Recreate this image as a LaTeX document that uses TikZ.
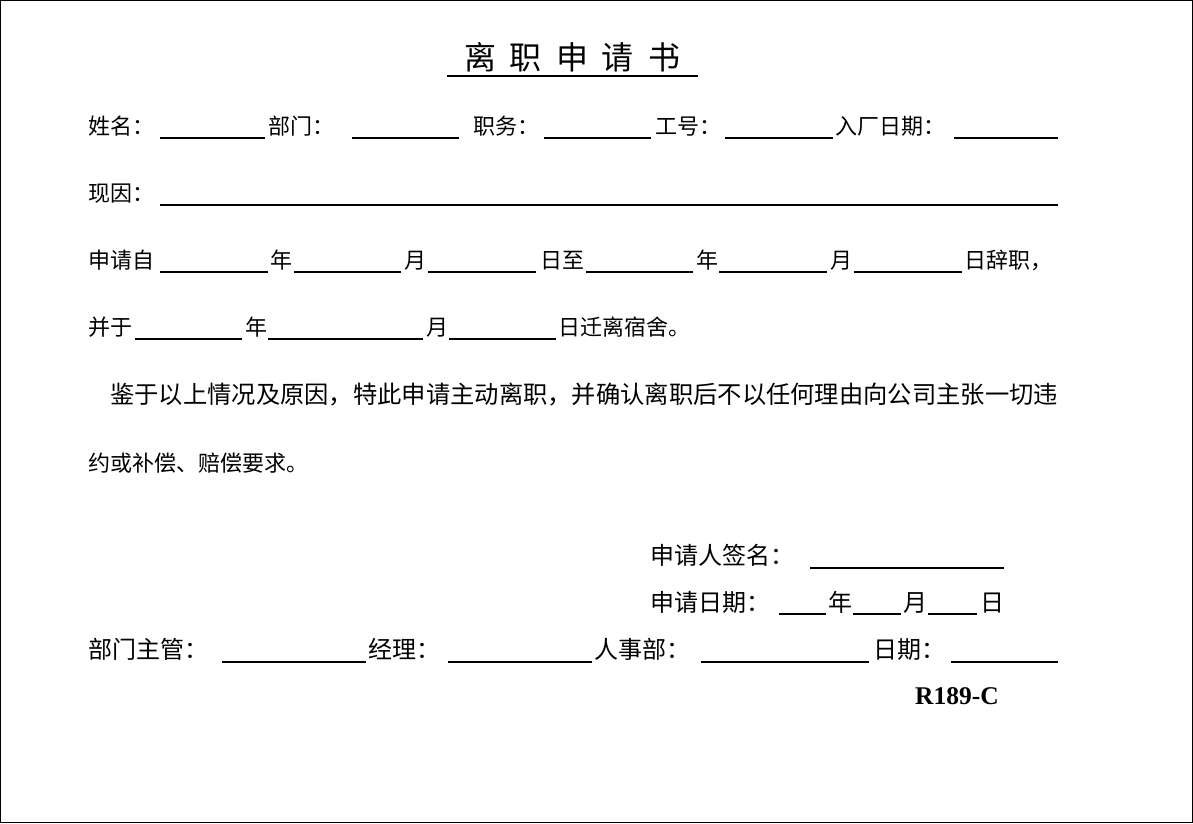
\documentclass[tikz,border=0pt]{standalone}
\usepackage{fontspec}
\setmainfont{Liberation Serif}
\newfontfamily\cjk{Noto Sans CJK SC}
\begin{document}
\begin{tikzpicture}[x=1pt,y=-1pt,
  t/.style={anchor=base west,inner sep=0pt,font=\cjk\fontsize{22}{22}\selectfont},
  tb/.style={anchor=base west,inner sep=0pt,font=\cjk\fontsize{24}{24}\selectfont},
  ln/.style={line width=1.3pt}]
\useasboundingbox (0,0) rectangle (1193,823);
\draw[line width=1pt] (0.5,0.5) rectangle (1192.5,822.5);
% title
\node[anchor=base,inner sep=0pt,font=\cjk\fontsize{32}{32}\selectfont] (title) at (572,69) {离\hspace{14pt}职\hspace{14pt}申\hspace{14pt}请\hspace{14pt}书};
\draw[line width=1.5pt] (447,76) -- (698,76);
% row 1
\node[t] at (88,134) {姓名：};
\draw[ln] (160,138) -- (265,138);
\node[t] at (268,134) {部门：};
\draw[ln] (352,138) -- (459,138);
\node[t] at (473,134) {职务：};
\draw[ln] (544,138) -- (651,138);
\node[t] at (655,134) {工号：};
\draw[ln] (725,138) -- (833,138);
\node[t] at (835,134) {入厂日期：};
\draw[ln] (954,138) -- (1058,138);
% row 2
\node[t] at (88,201) {现因：};
\draw[ln] (160,205) -- (1058,205);
% row 3
\node[t] at (88,268) {申请自};
\draw[ln] (160,272) -- (268,272);
\node[t] at (270,268) {年};
\draw[ln] (294,272) -- (401,272);
\node[t] at (404,268) {月};
\draw[ln] (428,272) -- (536,272);
\node[t] at (540,268) {日至};
\draw[ln] (586,272) -- (693,272);
\node[t] at (696,268) {年};
\draw[ln] (719,272) -- (827,272);
\node[t] at (830,268) {月};
\draw[ln] (854,272) -- (962,272);
\node[t] at (964,268) {日辞职，};
% row 4
\node[t] at (88,335) {并于};
\draw[ln] (135,339) -- (242,339);
\node[t] at (245,335) {年};
\draw[ln] (268,339) -- (423,339);
\node[t] at (426,335) {月};
\draw[ln] (449,339) -- (556,339);
\node[t] at (558,335) {日迁离宿舍。};
% row 5-6
\node[anchor=base west,inner sep=0pt,font=\cjk\fontsize{24.3}{24.3}\selectfont] at (110,403) {鉴于以上情况及原因，特此申请主动离职，并确认离职后不以任何理由向公司主张一切违};
\node[t] at (88,471) {约或补偿、赔偿要求。};
% signature
\node[tb] at (650,564) {申请人签名：};
\draw[ln] (810,568) -- (1004,568);
\node[tb] at (650,611) {申请日期：};
\draw[ln] (779,614) -- (826,614);
\node[tb] at (828,611) {年};
\draw[ln] (853,614) -- (901,614);
\node[tb] at (903,611) {月};
\draw[ln] (928,614) -- (977,614);
\node[tb] at (980,611) {日};
% bottom row
\node[tb] at (88,658) {部门主管：};
\draw[ln] (222,662) -- (366,662);
\node[tb] at (368,658) {经理：};
\draw[ln] (448,662) -- (592,662);
\node[tb] at (594,658) {人事部：};
\draw[ln] (701,662) -- (869,662);
\node[tb] at (873,658) {日期：};
\draw[ln] (951,662) -- (1058,662);
\node[anchor=base west,inner sep=0pt,font=\fontsize{25.5}{25.5}\selectfont\bfseries] at (915,704) {R189-C};
\end{tikzpicture}
\end{document}
